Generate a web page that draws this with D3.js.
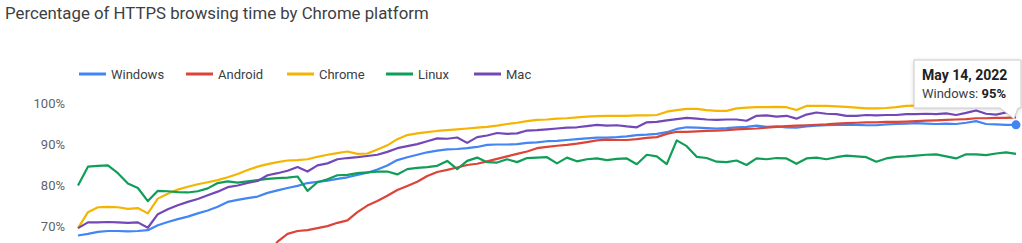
<!DOCTYPE html>
<html>
<head>
<meta charset="utf-8">
<script src="https://cdn.jsdelivr.net/npm/d3@7"></script>
<style>
  body { margin: 0; background: #fff; overflow: hidden; }
  svg { display: block; font-family: Roboto, "Open Sans", sans-serif; }
</style>
</head>
<body>
<svg id="chart" width="1022" height="243"></svg>
<script>
// samples every 4 weeks, last one is May 14, 2022
const lastDate = new Date(2022, 4, 14);
const nPoints = 95;
const dates = d3.range(nPoints).map(i => d3.timeDay.offset(lastDate, -28 * (nPoints - 1 - i)));

const seriesNames = ["Windows", "Android", "Chrome", "Linux", "Mac"];
const seriesColors = ["#4285f4", "#db4437", "#f4b400", "#0f9d58", "#7248b9"];
const yTicks = [70, 80, 90, 100];

const windows = [67.8,68.2,68.7,68.9,68.9,68.8,68.9,69.1,70.3,71.1,71.8,72.4,73.2,73.9,74.8,76,76.5,76.9,77.3,78.2,
  78.8,79.4,79.9,80.6,80.9,81.2,81.6,82,82.6,83.1,83.9,84.9,86.2,86.9,87.5,88.1,88.5,88.8,88.9,89.1,
  89.4,89.9,90,90,90.1,90.4,90.5,90.8,90.9,91.1,91.3,91.5,91.7,91.7,91.8,92,92.3,92.4,92.6,93,
  93.8,94.2,94.1,94,93.9,94,94.2,94.3,94.6,94.3,94.4,94.2,94.1,94.4,94.6,94.7,94.8,94.8,94.8,94.7,
  94.7,94.9,95,95.1,95.2,95.1,95,95.1,95,95.3,95.7,95,94.9,94.8,94.8];
const android = [38,39,40,41,41,42,43,44,45,46,47,48,50,51,52,54,56,58,60,63,
  66.3,68.2,68.9,69.1,69.6,70.1,70.9,71.5,73.5,75.1,76.2,77.5,78.9,79.9,80.9,82.3,83.3,83.8,84.4,85,
  85.3,85.9,86.5,87.1,87.7,88.3,89.1,89.4,89.7,89.9,90.2,90.6,91,91.2,91.1,91.1,91.3,91.6,91.8,92.6,
  93.1,93.1,93.2,93.3,93.4,93.5,93.7,93.8,93.9,94.1,94.3,94.5,94.6,94.7,94.8,94.9,95.1,95.2,95.3,95.4,
  95.4,95.5,95.5,95.6,95.7,95.8,95.9,96,96.1,96.2,96.4,96.4,96.5,96.5,96.6];
const chrome = [69.6,73.5,74.7,74.8,74.7,74.3,74.5,73.2,76.8,78,79,79.7,80.3,80.8,81.3,82,82.8,83.8,84.6,85.2,
  85.7,86.1,86.2,86.4,87,87.5,87.9,88.3,87.7,87.8,88.8,89.8,91.3,92.3,92.7,93,93.3,93.5,93.7,93.9,
  94.1,94.3,94.6,95,95.3,95.7,96,96.1,96.3,96.4,96.6,96.8,96.9,97,97,97,97.1,97.1,97.2,98,
  98.4,98.7,98.7,98.4,98.2,98.2,98.8,99,99.1,99.1,99.2,99.1,98.4,99.4,99.4,99.4,99.3,99.2,99,98.8,
  98.8,98.9,99.1,99.4,99.5,99.5,99.6,99.6,99.6,99.6,99.6,99.6,99.7,99.7,99.7];
const linux = [80,84.6,84.8,84.9,83,80.5,79.4,76.2,78.7,78.6,78.4,78.3,78.6,79.3,80.6,81,80.7,81,81.3,81.6,
  81.8,81.9,82.2,78.7,80.8,81.5,82.5,82.6,83,83.2,83.4,83.4,82.7,84,84.3,84.5,84.8,86,84,86,
  86.8,85.7,85.6,86.4,85.7,86.7,86.8,86.9,85.4,86.8,85.9,86.4,86.6,86.2,86.5,86.6,85.2,87.5,87.1,85.2,
  91,89.6,87,86.7,85.8,85.7,86.1,85,86.6,86.4,86.7,86.6,85.3,86.6,86.8,86.4,86.9,87.3,87.1,86.9,
  85.8,86.6,87,87.1,87.3,87.5,87.6,87.1,86.6,87.6,87.6,87.4,87.8,88.1,87.7];
const mac = [69.6,71,71,71.1,71,70.9,71,69.7,73,74.2,75.2,76,76.7,77.6,78.5,79.6,80,80.6,81.1,82.5,
  83,83.6,84.5,83.4,84.9,85.4,86.4,86.7,86.9,87.2,87.5,88.2,89.1,89.6,90.1,90.8,91.5,91.4,91.7,90.4,
  91.8,92.2,92.8,92.6,92.7,93.4,93.5,93.7,93.9,94.1,94.2,94.5,94.8,94.6,94.7,94.4,94.2,95.4,95.5,95.9,
  96.2,96.5,96.3,96.1,96,96.1,96.1,95.8,97,97.1,96.8,97,96.3,97.3,97.8,97.5,97.4,97,97,97.2,
  97.1,97.2,97.2,97.4,97.4,97.5,97.4,97.6,97.2,97.7,98.3,97.5,97.3,97.8,97.4];

const seriesValues = [windows, android, chrome, linux, mac];

const svg = d3.select("#chart");
const margin = { left: 78, right: 6 };
const width = 1022;

const xScale = d3.scaleTime()
  .domain(d3.extent(dates))
  .range([margin.left, width - margin.right]);
const yScale = d3.scaleLinear()
  .domain([40, 100])
  .range([349.5, 103.5]);

// title
svg.append("text")
  .attr("x", 5).attr("y", 19)
  .attr("font-size", 16.8)
  .attr("fill", "#3c4043")
  .text("Percentage of HTTPS browsing time by Chrome platform");

// y axis, labels only (no grid in the original)
const yAxis = d3.axisLeft(yScale).tickValues(yTicks).tickFormat(d => d + "%").tickSize(0).tickPadding(0);
const yG = svg.append("g")
  .attr("transform", "translate(65,0)")
  .call(yAxis);
yG.select(".domain").remove();
yG.selectAll("text")
  .attr("font-size", 13)
  .attr("font-family", "Roboto, sans-serif")
  .attr("fill", "#5f6368");

// legend
const legendX = [79, 186, 287, 386, 474];
const legend = svg.append("g");
seriesNames.forEach((name, i) => {
  const g = legend.append("g").attr("transform", `translate(${legendX[i]},74)`);
  g.append("line")
    .attr("x1", 0).attr("x2", 27)
    .attr("stroke", seriesColors[i])
    .attr("stroke-width", 3);
  g.append("text")
    .attr("x", 32).attr("y", 4.5)
    .attr("font-size", 13)
    .attr("fill", "#3c4043")
    .text(name);
});

// lines
const line = d3.line()
  .x((d, i) => xScale(dates[i]))
  .y(d => yScale(d));

seriesValues.forEach((vals, i) => {
  svg.append("path")
    .datum(vals)
    .attr("fill", "none")
    .attr("stroke", seriesColors[i])
    .attr("stroke-width", 2.2)
    .attr("stroke-linejoin", "round")
    .attr("d", line);
});

// hover point + tooltip on last Windows value
const lastIdx = nPoints - 1;
const px = xScale(dates[lastIdx]);
const py = yScale(windows[lastIdx]);
svg.append("circle")
  .attr("cx", px).attr("cy", py).attr("r", 4.5)
  .attr("fill", seriesColors[0]);

const tip = svg.append("g");
const bx = 914, by = 60, bw = 107, bh = 48;
tip.append("path")
  .attr("d", `M${bx},${by} H${bx + bw} V${by + bh} H${px + 2} L${px - 2},${py - 6} L${px - 16},${by + bh} H${bx} Z`)
  .attr("fill", "#fff")
  .attr("stroke", "#ccc")
  .attr("stroke-width", 1)
  .style("filter", "drop-shadow(0 1px 2px rgba(0,0,0,0.15))");
tip.append("text")
  .attr("x", bx + 8).attr("y", by + 20)
  .attr("font-size", 14)
  .attr("font-weight", "bold")
  .attr("fill", "#202124")
  .text(d3.timeFormat("%b %-d, %Y")(dates[lastIdx]));
const t2 = tip.append("text")
  .attr("x", bx + 8).attr("y", by + 38)
  .attr("font-size", 13)
  .attr("fill", "#3c4043");
t2.append("tspan").text(seriesNames[0] + ": ");
t2.append("tspan").attr("font-weight", "bold").attr("fill", "#202124")
  .text(Math.round(windows[lastIdx]) + "%");
</script>
</body>
</html>
